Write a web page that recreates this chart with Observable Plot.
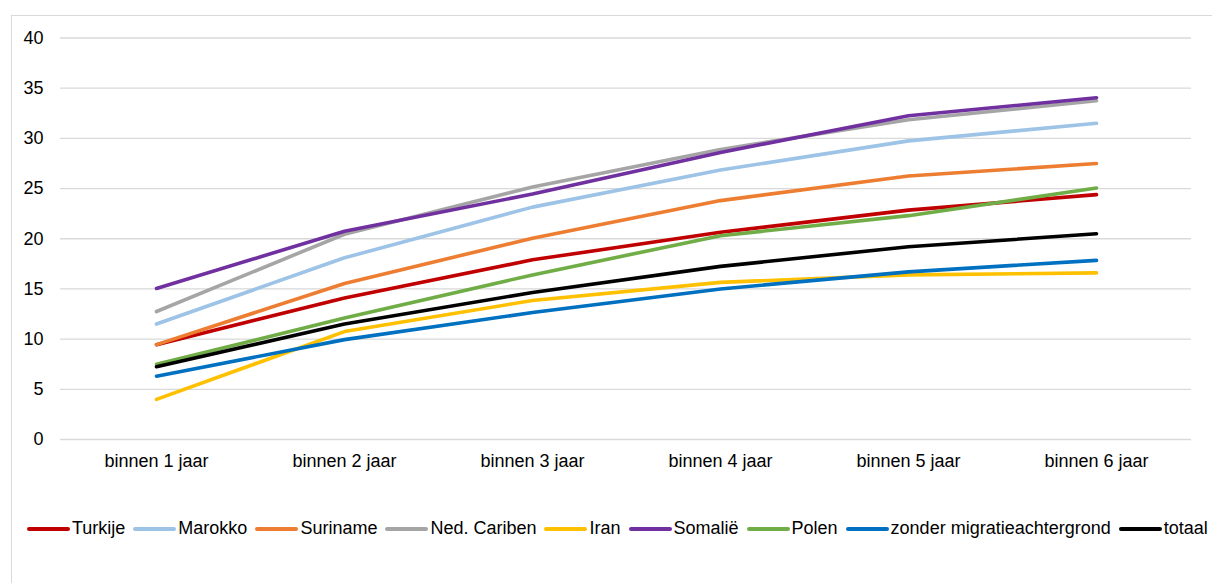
<!DOCTYPE html>
<html>
<head>
<meta charset="utf-8">
<script src="https://cdn.jsdelivr.net/npm/d3@7"></script>
<script src="https://cdn.jsdelivr.net/npm/@observablehq/plot@0.6"></script>
<style>
  html, body { margin: 0; padding: 0; background: #fff; }
  #wrap { position: relative; width: 1212px; height: 583px; overflow: hidden; font-family: "Liberation Sans", Arial, sans-serif; }
  #frame { position: absolute; left: 11px; top: 15px; width: 1300px; height: 700px; border-left: 1px solid #d9d9d9; border-top: 1px solid #d9d9d9; box-sizing: border-box; }
  #chart { position: absolute; left: 0; top: 0; }
  #legend { position: absolute; left: 27px; top: 518px; display: flex; align-items: center; font-size: 18px; color: #000; white-space: nowrap; }
  .item { display: flex; align-items: center; margin-right: 8px; }
  .sw { width: 43px; height: 4px; border-radius: 2px; margin-right: 2px; }
</style>
</head>
<body>
<div id="wrap">
  <div id="frame"></div>
  <div id="chart"></div>
  <div id="legend"></div>
</div>
<script>
const categories = ["binnen 1 jaar", "binnen 2 jaar", "binnen 3 jaar", "binnen 4 jaar", "binnen 5 jaar", "binnen 6 jaar"];
const yTicks = [0, 5, 10, 15, 20, 25, 30, 35, 40];

const seriesNames = ["Turkije", "Marokko", "Suriname", "Ned. Cariben", "Iran", "Somalië", "Polen", "zonder migratieachtergrond", "totaal"];
const seriesColors = ["#c00000", "#9dc3e6", "#ed7d31", "#a5a5a5", "#ffc000", "#7030a0", "#70ad47", "#0070c0", "#000000"];

const turkije  = [9.45, 14.1, 17.9, 20.65, 22.85, 24.4];
const marokko  = [11.5, 18.1, 23.15, 26.85, 29.75, 31.5];
const suriname = [9.45, 15.55, 20.05, 23.8, 26.25, 27.5];
const nedCariben = [12.75, 20.45, 25.15, 28.9, 31.85, 33.75];
const iran     = [4.0, 10.75, 13.85, 15.65, 16.4, 16.6];
const somalie  = [15.05, 20.75, 24.45, 28.6, 32.25, 34.05];
const polen    = [7.5, 12.1, 16.4, 20.3, 22.3, 25.05];
const zonder   = [6.3, 9.95, 12.65, 15.0, 16.7, 17.85];
const totaal   = [7.25, 11.5, 14.65, 17.25, 19.2, 20.5];

const seriesValues = [turkije, marokko, suriname, nedCariben, iran, somalie, polen, zonder, totaal];

const data = [];
seriesNames.forEach((name, i) => {
  seriesValues[i].forEach((v, j) => data.push({series: name, cat: categories[j], value: v}));
});

const chart = Plot.plot({
  width: 1212,
  height: 480,
  marginLeft: 60,
  marginRight: 21,
  marginTop: 37.5,
  marginBottom: 41,
  style: {fontSize: "18px", fontFamily: "'Liberation Sans', Arial, sans-serif", color: "#000", background: "transparent", overflow: "visible"},
  x: {type: "point", domain: categories, padding: 0.5, label: null},
  y: {domain: [0, 40], label: null},
  color: {domain: seriesNames, range: seriesColors},
  marks: [
    Plot.ruleY(yTicks, {stroke: "#d9d9d9", strokeWidth: 1.3}),
    Plot.axisY({ticks: yTicks, tickSize: 0, tickPadding: 17, label: null}),
    Plot.axisX({tickSize: 0, tickPadding: 15, label: null}),
    Plot.lineY(data, {x: "cat", y: "value", z: "series", stroke: "series", strokeWidth: 3.6, strokeLinecap: "round", strokeLinejoin: "round"})
  ]
});
document.getElementById("chart").appendChild(chart);

const legend = document.getElementById("legend");
seriesNames.forEach((name, i) => {
  const item = document.createElement("div");
  item.className = "item";
  const sw = document.createElement("div");
  sw.className = "sw";
  sw.style.background = seriesColors[i];
  const t = document.createElement("span");
  t.textContent = name;
  item.appendChild(sw);
  item.appendChild(t);
  legend.appendChild(item);
});
</script>
</body>
</html>
